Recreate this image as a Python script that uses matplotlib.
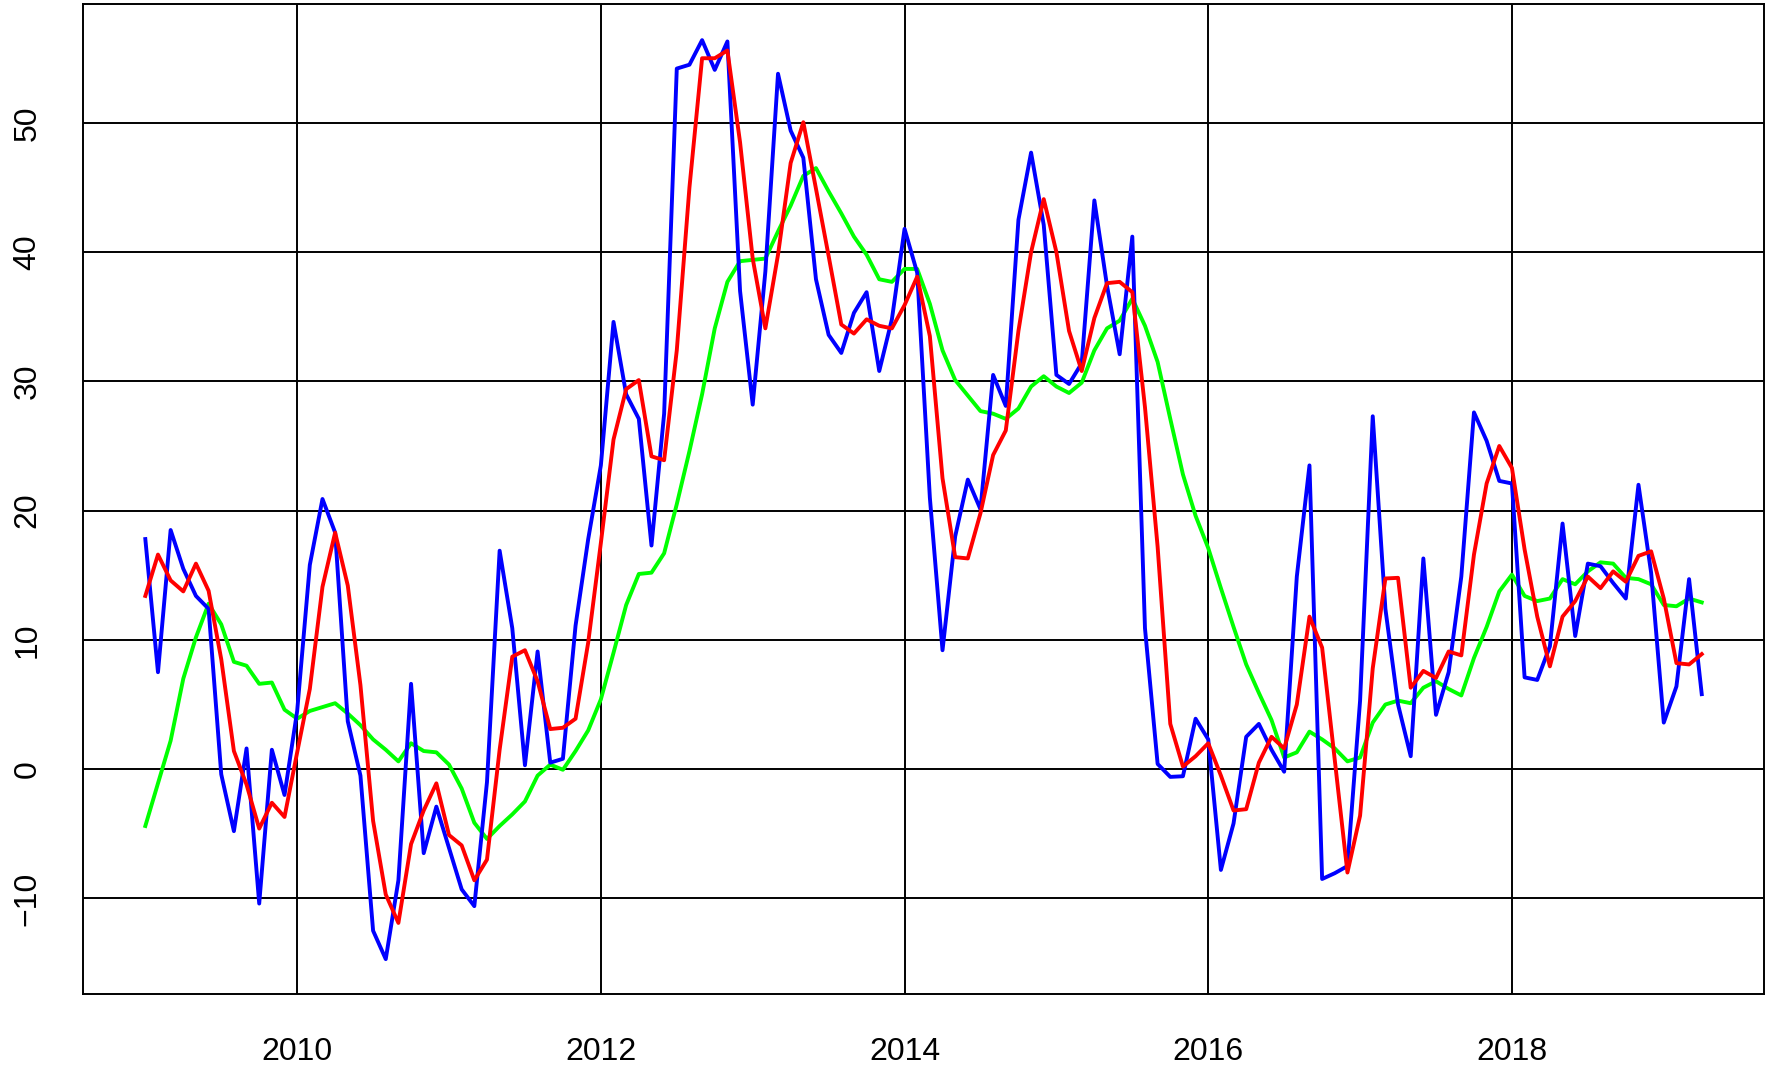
import numpy as np
import pandas as pd
import matplotlib
matplotlib.use('Agg')
import matplotlib.pyplot as plt

# monthly series, Jan 2009 - Apr 2019
start = '2009-01'
serie = [17.8, 7.5, 18.5, 15.5, 13.4, 12.4, -0.4, -4.8, 1.6, -10.4, 1.5, -2.0,
	4.5, 15.8, 20.9, 18.3, 3.7, -0.5, -12.5, -14.7, -8.6, 6.6, -6.5, -2.9,
	-6.1, -9.3, -10.6, -1.0, 16.9, 10.9, 0.3, 9.1, 0.5, 0.8, 11.1, 17.8,
	23.5, 34.6, 29.0, 27.1, 17.3, 27.5, 54.2, 54.5, 56.4, 54.1, 56.3, 37.0,
	28.2, 38.5, 53.8, 49.4, 47.3, 37.9, 33.6, 32.2, 35.3, 36.9, 30.8, 34.8,
	41.8, 38.4, 21.0, 9.2, 18.0, 22.4, 20.1, 30.5, 28.1, 42.5, 47.7, 42.1,
	30.5, 29.8, 31.4, 44.0, 37.4, 32.1, 41.2, 10.9, 0.4, -0.6, -0.55, 3.9,
	2.3, -7.8, -4.2, 2.5, 3.5, 1.5, -0.2, 14.9, 23.5, -8.5, -8.05, -7.5,
	5.3, 27.3, 12.4, 5.0, 1.0, 16.3, 4.2, 7.5, 14.9, 27.6, 25.4, 22.3,
	22.1, 7.1, 6.9, 9.5, 19.0, 10.3, 15.9, 15.7, 14.4, 13.2, 22.0, 15.2,
	3.6, 6.4, 14.7, 5.8]

ma3 = [13.4, 16.6, 14.6, 13.75, 15.9, 13.8, 8.5, 1.4, -1.2, -4.6, -2.6, -3.7,
	1.3, 6.2, 14.1, 18.3, 14.2, 6.5, -4.0, -9.7, -11.9, -5.8, -3.2, -1.1,
	-5.1, -5.9, -8.6, -7.0, 1.5, 8.7, 9.2, 6.8, 3.1, 3.2, 3.9, 9.8,
	17.5, 25.5, 29.4, 30.1, 24.2, 23.9, 32.4, 45.0, 55.0, 55.0, 55.6, 48.5,
	39.5, 34.1, 39.8, 46.9, 50.05, 44.9, 39.7, 34.4, 33.7, 34.8, 34.3, 34.1,
	35.9, 38.1, 33.5, 22.5, 16.4, 16.3, 19.8, 24.3, 26.2, 33.9, 40.0, 44.1,
	40.0, 33.9, 30.8, 34.9, 37.6, 37.7, 36.9, 28.0, 17.2, 3.5, 0.2, 1.0,
	2.0, -0.5, -3.2, -3.1, 0.5, 2.5, 1.6, 5.0, 11.8, 9.4, 0.7, -8.0,
	-3.6, 7.8, 14.75, 14.8, 6.3, 7.6, 7.05, 9.1, 8.8, 16.6, 22.1, 25.0,
	23.3, 17.0, 11.8, 7.95, 11.8, 13.0, 14.9, 14.0, 15.3, 14.5, 16.5, 16.85,
	13.2, 8.2, 8.1, 8.9]

ma12 = [-4.4, -1.1, 2.2, 7.0, 10.2, 12.8, 11.2, 8.3, 8.0, 6.6, 6.7, 4.6,
	3.9, 4.5, 4.8, 5.1, 4.3, 3.4, 2.3, 1.5, 0.6, 2.0, 1.4, 1.3,
	0.35, -1.5, -4.15, -5.4, -4.4, -3.5, -2.5, -0.5, 0.35, -0.05, 1.4, 3.0,
	5.4, 9.0, 12.7, 15.1, 15.2, 16.7, 20.5, 24.6, 29.0, 34.1, 37.7, 39.3,
	39.4, 39.5, 41.6, 43.6, 45.9, 46.5, 44.7, 43.0, 41.2, 39.8, 37.9, 37.7,
	38.7, 38.7, 36.0, 32.4, 30.1, 28.9, 27.7, 27.5, 27.1, 27.9, 29.6, 30.4,
	29.6, 29.1, 29.9, 32.4, 34.1, 34.7, 36.4, 34.3, 31.5, 27.1, 22.8, 19.6,
	17.1, 14.0, 11.0, 8.1, 5.9, 3.8, 0.9, 1.3, 2.9, 2.3, 1.6, 0.6,
	0.9, 3.6, 5.0, 5.3, 5.1, 6.3, 6.8, 6.2, 5.7, 8.6, 11.0, 13.75,
	15.05, 13.4, 13.0, 13.2, 14.7, 14.3, 15.3, 16.0, 15.9, 14.8, 14.7, 14.3,
	12.7, 12.6, 13.2, 12.9]

xticks = [2010, 2012, 2014, 2016, 2018]
yticks = [-10, 0, 10, 20, 30, 40, 50]

dates = pd.date_range(start, periods=len(serie), freq='MS')
t = dates.year + (dates.month - 1) / 12.0

plt.rcParams['font.family'] = ['Liberation Sans', 'DejaVu Sans']

fig = plt.figure(figsize=(17.75, 10.70), dpi=100)
ax = fig.add_axes([0.0468, 0.0710, 0.9470, 0.9253])

for v in xticks:
	ax.axvline(v, color='black', lw=1.4, zorder=1)
for v in yticks:
	ax.axhline(v, color='black', lw=1.4, zorder=1)

ax.plot(t, serie, color='#0000ff', lw=2.8, zorder=3)
ax.plot(t, ma3, color='#ff0000', lw=2.8, zorder=4)
ax.plot(t, ma12, color='#00ff00', lw=2.8, zorder=2)

ax.set_xlim(2008.59, 2019.66)
ax.set_ylim(-17.4, 59.2)
ax.set_xticks(xticks)
ax.set_yticks(yticks)
ax.set_xticklabels([str(v) for v in xticks])
ax.set_yticklabels([str(v).replace('-', '\u2212') for v in yticks])
ax.tick_params(axis='both', length=0, labelsize=23)
ax.tick_params(axis='x', pad=42)
ax.tick_params(axis='y', pad=40, labelrotation=90)
plt.setp(ax.get_xticklabels(), va='center')
plt.setp(ax.get_yticklabels(), va='center', ha='center')

for s in ax.spines.values():
	s.set_linewidth(1.4)

fig.savefig('out.png', dpi=100)
